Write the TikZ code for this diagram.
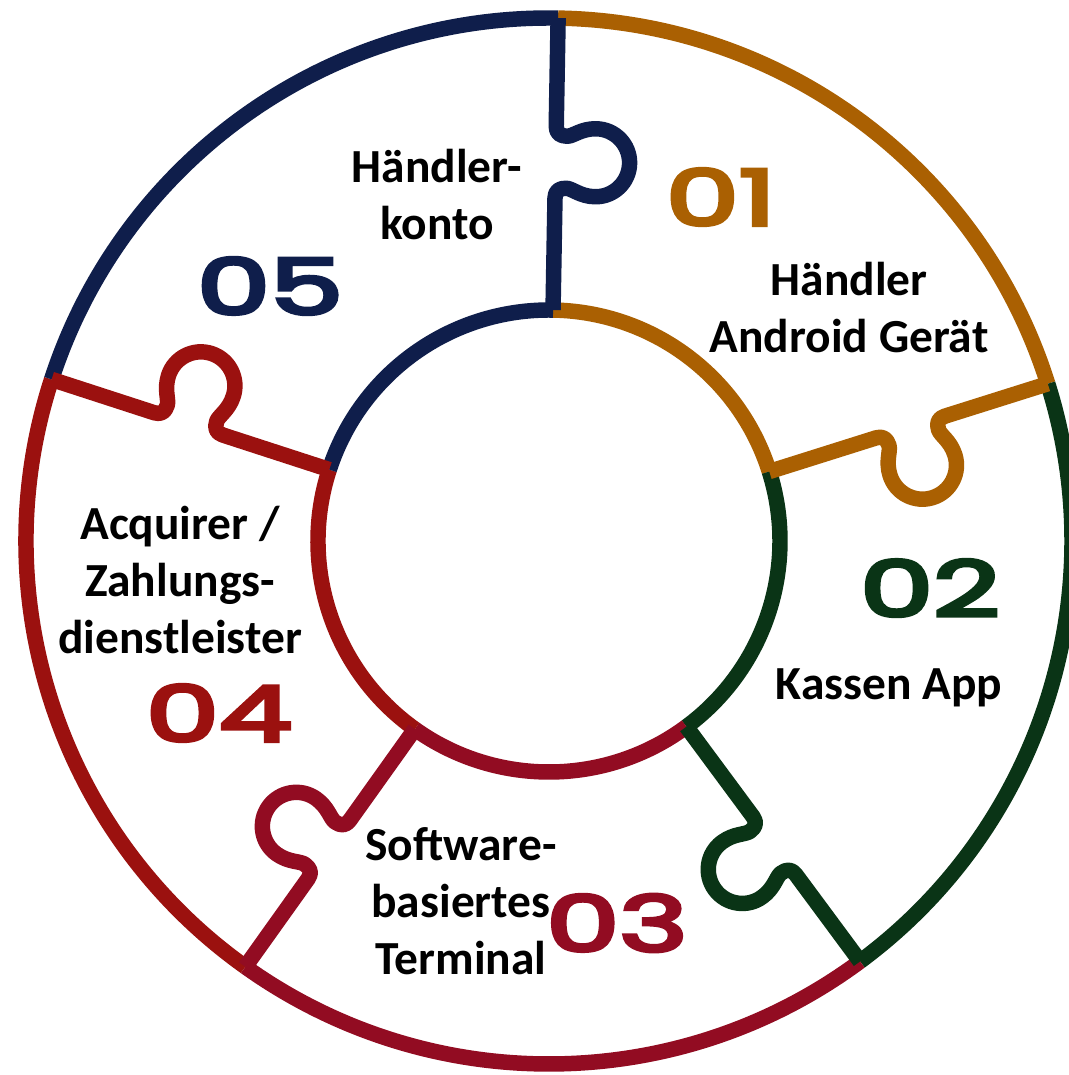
\documentclass[tikz,border=0pt]{standalone}
\usepackage{fontspec}
\usepackage{graphicx}
\usepackage{xcolor}
\usepackage{tikz}
\setmainfont{Carlito}
\newfontface\piecedigits{Poppins}[FakeBold=4.5]
\newcommand\piecenum[1]{{\fontsize{22}{22}\piecedigits\scalebox{1.5}[1]{#1}}}

\definecolor{orangeone}{RGB}{170,96,2}
\definecolor{greentwo}{RGB}{10,52,22}
\definecolor{crimsonthree}{RGB}{146,12,34}
\definecolor{redfour}{RGB}{155,17,15}
\definecolor{navyfive}{RGB}{15,30,75}

\begin{document}
\begin{tikzpicture}[x=0.01cm, y=0.01cm,
    ring/.style={line width=4.4pt, line join=round},
    lbl/.style={font=\bfseries\fontsize{13.5}{16.2}\selectfont, align=center}]
    \useasboundingbox (-549,-534) rectangle (520,541);

    % Outer and inner arcs of the five pieces
    \foreach \a/\b/\col in {17.5/89/orangeone, -53.5/17.5/greentwo, -125.5/-53.5/crimsonthree, 162/234.5/redfour, 89/162/navyfive} {
        \draw[ring, \col] (\a:523) arc[start angle=\a, end angle=\b, radius=523];
        \draw[ring, \col] (\a:231) arc[start angle=\a, end angle=\b, radius=231];
    }

    % Joints with their tabs
    \foreach \ang/\col in {89/navyfive, 17.5/orangeone, -53.5/greentwo, -125.5/crimsonthree, 162/redfour} {
        \draw[ring, \col, rotate=\ang] (231,0) -- (343,0)
            .. controls (350,0) and (353,-4) .. (353,-11)
            .. controls (353,-17) and (345,-25) .. (345,-40)
            arc[start angle=180, end angle=360, radius=34]
            .. controls (413,-25) and (405,-17) .. (405,-11)
            .. controls (405,-4) and (408,0) .. (415,0) -- (523,0);
    }

    % Numbers
    \node[orangeone] (n01) at (172,344) {\piecenum{01}};
    \node[greentwo] (n02) at (381,-47) {\piecenum{02}};
    \node[crimsonthree] (n03) at (68,-382) {\piecenum{03}};
    \node[redfour] (n04) at (-330,-172) {\piecenum{04}};
    \node[navyfive] (n05) at (-279,255) {\piecenum{05}};

    % Labels
    \node[lbl] (t01) at (300,233) {Händler\\Android Gerät};
    \node[lbl] (t02) at (340,-147) {Kassen App};
    \node[lbl] (t03) at (-88,-360) {Software-\\basiertes\\Terminal};
    \node[lbl] (t04) at (-369,-39) {Acquirer /\\Zahlungs-\\dienstleister};
    \node[lbl] (t05) at (-112,346) {Händler-\\konto};
\end{tikzpicture}
\end{document}
